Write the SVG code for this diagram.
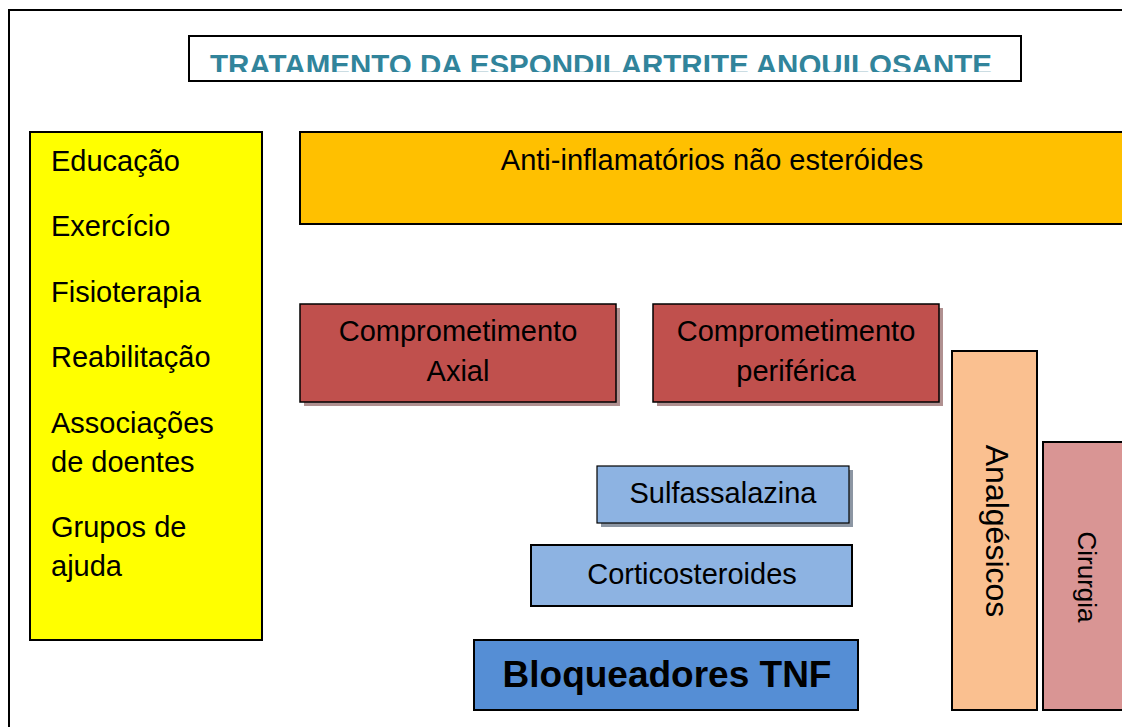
<svg xmlns="http://www.w3.org/2000/svg" width="1122" height="727" viewBox="0 0 1122 727">
<defs>
<style>
text{font-family:"Liberation Sans",Arial,sans-serif;fill:#000}
.box{stroke:#000;stroke-width:2}
.t29{font-size:29px}
.mid{text-anchor:middle}
</style>
<clipPath id="titleClip"><rect x="190" y="37" width="830" height="35"/></clipPath>
</defs>
<rect width="1122" height="727" fill="#fff"/>
<rect x="9" y="10" width="1130" height="730" fill="none" stroke="#000" stroke-width="2"/>
<g id="title">
<rect x="189" y="36" width="832" height="45" fill="#fff" stroke="#000" stroke-width="2"/>
<text x="601" y="75" class="mid" clip-path="url(#titleClip)" style="font-size:30px;font-weight:bold;fill:#31849B" textLength="782" lengthAdjust="spacingAndGlyphs">TRATAMENTO DA ESPONDILARTRITE ANQUILOSANTE</text>
</g>
<g id="non-pharma">
<rect class="box" x="30" y="132" width="232" height="508" fill="#FFFF00"/>
<text class="t29" x="51" y="171">Educação</text>
<text class="t29" x="51" y="236">Exercício</text>
<text class="t29" x="51" y="302">Fisioterapia</text>
<text class="t29" x="51" y="367">Reabilitação</text>
<text class="t29" x="51" y="433">Associações</text>
<text class="t29" x="51" y="472">de doentes</text>
<text class="t29" x="51" y="537">Grupos de</text>
<text class="t29" x="51" y="576">ajuda</text>
</g>
<g id="aine">
<rect class="box" x="300" y="132" width="830" height="92" fill="#FFC000"/>
<text class="t29 mid" x="712" y="170">Anti-inflamatórios não esteróides</text>
</g>
<g id="axial">
<rect x="304" y="308" width="316" height="98" fill="#B09090"/>
<rect x="300" y="304" width="316" height="98" fill="#C0504D" stroke="#000" stroke-width="1.5"/>
<text class="t29 mid" x="458" y="341">Comprometimento</text>
<text class="t29 mid" x="458" y="381">Axial</text>
</g>
<g id="periferica">
<rect x="657" y="308" width="286" height="98" fill="#B09090"/>
<rect x="653" y="304" width="286" height="98" fill="#C0504D" stroke="#000" stroke-width="1.5"/>
<text class="t29 mid" x="796" y="341">Comprometimento</text>
<text class="t29 mid" x="796" y="381">periférica</text>
</g>
<g id="sulfassalazina">
<rect x="601" y="470" width="252" height="57" fill="#8C96A3"/>
<rect x="597" y="466" width="252" height="57" fill="#8DB3E2" stroke="#000" stroke-width="1.2"/>
<text class="t29 mid" x="723" y="503">Sulfassalazina</text>
</g>
<g id="corticosteroides">
<rect class="box" x="531" y="545" width="321" height="61" fill="#8DB3E2"/>
<text class="t29 mid" x="692" y="584">Corticosteroides</text>
</g>
<g id="tnf">
<rect class="box" x="474" y="640" width="384" height="70" fill="#558ED5"/>
<text class="mid" x="667" y="687" style="font-size:37px;font-weight:bold">Bloqueadores TNF</text>
</g>
<g id="analgesicos">
<rect class="box" x="952" y="351" width="85" height="359" fill="#FAC090"/>
<text class="mid" transform="translate(986,531) rotate(90)" style="font-size:32px">Analgésicos</text>
</g>
<g id="cirurgia">
<rect class="box" x="1043" y="442" width="90" height="268" fill="#D99594"/>
<text class="mid" transform="translate(1078,577) rotate(90)" style="font-size:26px">Cirurgia</text>
</g>
<g id="connectors"></g>
</svg>
